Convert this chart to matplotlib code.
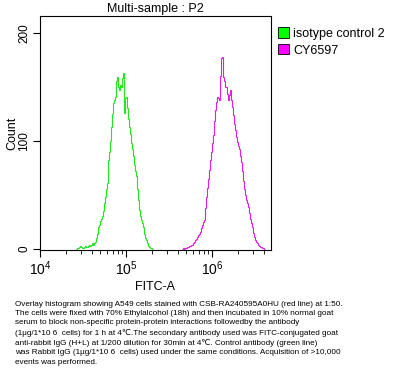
from matplotlib import pyplot as plt
from matplotlib.patches import Patch
from matplotlib.ticker import LogLocator, LogFormatterMathtext, NullFormatter
import numpy as np

plt.rcParams['font.family'] = ['Liberation Sans', 'DejaVu Sans']
plt.rcParams['mathtext.fontset'] = 'custom'
plt.rcParams['mathtext.rm'] = 'Liberation Sans'
plt.rcParams['mathtext.it'] = 'Liberation Sans'
plt.rcParams['mathtext.default'] = 'regular'

# histogram counts, one value per log channel
green_range = (4.419, 5.314)   # log10 FITC-A of first / last channel edge
green_counts = [0, 1, 1, 2, 3, 2, 1, 1, 2, 3, 2, 2, 3, 4, 3, 4, 5, 4, 5, 6,
                10, 14, 20, 22, 26, 28, 30, 35, 42, 48, 55, 61, 82, 90, 100, 113,
                125, 135, 138, 141, 150, 155, 159, 150, 147, 152, 150, 158, 163, 126,
                140, 141, 130, 120, 113, 106, 98, 92, 86, 78, 72, 67, 55, 45, 36,
                30, 27, 24, 20, 14, 10, 8, 5, 3, 2, 1, 1, 0]

magenta_range = (5.651, 6.616)
magenta_counts = [0, 1, 0, 1, 1, 2, 2, 3, 3, 4, 4, 5, 6, 8, 9, 11, 13, 14, 16,
                  19, 22, 25, 27, 38, 48, 56, 65, 73, 82, 90, 98, 105, 118, 129,
                  136, 141, 140, 138, 160, 177, 178, 159, 155, 150, 143, 138, 142,
                  147, 138, 131, 124, 116, 110, 104, 99, 95, 92, 86, 80, 72, 63,
                  55, 50, 45, 42, 39, 33, 28, 24, 20, 15, 11, 8, 6, 5, 4, 3, 2,
                  2, 1, 1, 0]

labels = ["isotype control 2", "CY6597"]
line_colors = ['#22e622', '#e020e0']
box_colors = ['#00ff00', '#ff00ff']

caption = ("Overlay histogram showing A549 cells stained with CSB-RA240595A0HU (red line) at 1:50.\n"
           "The cells were fixed with 70% Ethylalcohol (18h) and then incubated in 10% normal goat\n"
           "serum to block non-specific protein-protein interactions followedby the antibody\n"
           "(1\u03bcg/1*10 6  cells) for 1 h at 4\u2103.The secondary antibody used was FITC-conjugated goat\n"
           "anti-rabbit IgG (H+L) at 1/200 dilution for 30min at 4\u2103. Control antibody (green line)\n"
           "was Rabbit IgG (1\u03bcg/1*10 6  cells) used under the same conditions. Acquisition of >10,000\n"
           "events was performed.")

fig = plt.figure(figsize=(4.07, 3.77), dpi=100)
ax = fig.add_axes([0.0983, 0.337, 0.5675, 0.621])

for rng, counts, c in [(green_range, green_counts, line_colors[0]),
                       (magenta_range, magenta_counts, line_colors[1])]:
    edges = np.logspace(rng[0], rng[1], len(counts) + 1)
    ax.stairs(counts, edges, color=c, linewidth=0.8)

ax.set_xscale('log')
ax.set_xlim(1e4, 10 ** 6.686)
ax.set_ylim(-1, 215.7)
ax.set_yticks([0, 100, 200])
ax.set_yticklabels(['0', '100', '200'], rotation=90, va='center', fontsize=8.5)
ax.xaxis.set_major_locator(LogLocator(base=10))
ax.xaxis.set_major_formatter(LogFormatterMathtext())
ax.xaxis.set_minor_locator(LogLocator(base=10, subs=np.arange(2, 10)))
ax.xaxis.set_minor_formatter(NullFormatter())
ax.tick_params(axis='x', which='major', length=5, labelsize=10, pad=2)
ax.tick_params(axis='x', which='minor', length=3)
ax.tick_params(axis='y', length=5, pad=2)
for s in ax.spines.values():
    s.set_linewidth(0.8)

ax.set_title("Multi-sample : P2", fontsize=9, pad=3)
ax.set_xlabel("FITC-A", fontsize=9, labelpad=2)
ax.set_ylabel("Count", fontsize=9, labelpad=0)

handles = [Patch(facecolor=box_colors[i], edgecolor='black', linewidth=0.6, label=labels[i])
           for i in range(2)]
fig.legend(handles=handles, loc='upper left', bbox_to_anchor=(0.683, 0.928),
           frameon=False, fontsize=9, handlelength=0.9, handleheight=0.9,
           handletextpad=0.3, labelspacing=0.35, borderaxespad=0, borderpad=0)

fig.text(0.037, 0.202, caption, fontsize=5.9, va='top', ha='left', linespacing=1.43,
         family=['Liberation Sans Narrow', 'Liberation Sans', 'DejaVu Sans'])

fig.savefig('out.png', dpi=100)
